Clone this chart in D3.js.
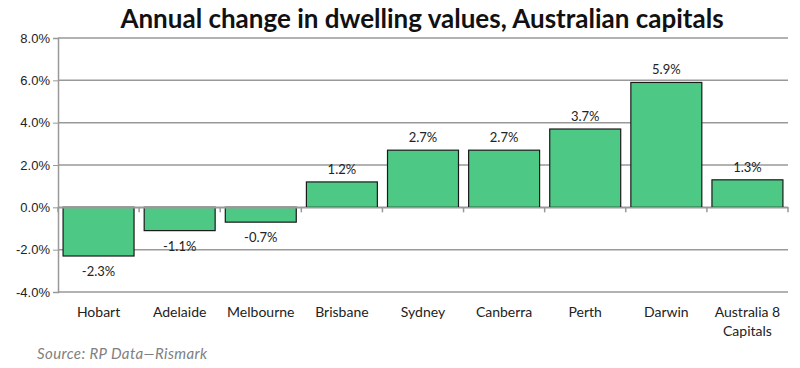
<!DOCTYPE html>
<html>
<head>
<meta charset="utf-8">
<script src="https://cdn.jsdelivr.net/npm/d3@7"></script>
<style>
  body { margin: 0; background: #fff; }
  svg { font-family: Lato, "Open Sans", sans-serif; }
</style>
</head>
<body>
<div id="chart"></div>
<script>
// data
var cities = ["Hobart", "Adelaide", "Melbourne", "Brisbane", "Sydney", "Canberra", "Perth", "Darwin", "Australia 8 Capitals"];
var change = [-2.3, -1.1, -0.7, 1.2, 2.7, 2.7, 3.7, 5.9, 1.3];
var yTicks = [-4, -2, 0, 2, 4, 6, 8];

var W = 800, H = 368;
var margin = {top: 38, right: 12, bottom: 76, left: 58},
    width = W - margin.left - margin.right,
    height = H - margin.top - margin.bottom;

// plain hyphen for negatives, like the original
var pct = function(d) { return d3.format(".1f")(d).replace("\u2212", "-") + "%"; };

var svg = d3.select("#chart").append("svg")
    .attr("width", W)
    .attr("height", H);

// title
svg.append("text")
    .attr("x", 422)
    .attr("y", 28)
    .attr("text-anchor", "middle")
    .style("font-size", "26px")
    .style("font-weight", "bold")
    .style("fill", "#111")
    .text("Annual change in dwelling values, Australian capitals");

var g = svg.append("g")
    .attr("transform", "translate(" + margin.left + "," + margin.top + ")");

var x = d3.scaleBand()
    .domain(cities)
    .range([0, width])
    .paddingInner(0.125)
    .paddingOuter(0.0625);

var y = d3.scaleLinear()
    .domain([-4, 8])
    .range([height, 0]);

// gridlines
g.selectAll(".grid")
    .data(yTicks)
    .enter().append("line")
    .attr("x1", 0)
    .attr("x2", width)
    .attr("y1", function(d) { return y(d); })
    .attr("y2", function(d) { return y(d); })
    .style("stroke", "#999")
    .style("stroke-width", 1.5);

// y axis
var yAxis = g.append("g")
    .call(d3.axisLeft(y).tickValues(yTicks).tickSize(5).tickFormat(pct));
yAxis.select(".domain").style("stroke", "#999").style("stroke-width", 1.5);
yAxis.selectAll(".tick line").style("stroke", "#999");
yAxis.selectAll(".tick text")
    .attr("x", -8)
    .style("font-size", "13px")
    .style("fill", "#222");

// bars
var data = cities.map(function(c, i) { return {city: c, v: change[i]}; });

g.selectAll(".bar")
    .data(data)
    .enter().append("rect")
    .attr("class", "bar")
    .attr("x", function(d) { return x(d.city); })
    .attr("width", x.bandwidth())
    .attr("y", function(d) { return y(Math.max(0, d.v)); })
    .attr("height", function(d) { return Math.abs(y(d.v) - y(0)); })
    .style("fill", "#4dc985")
    .style("stroke", "#1a1a1a")
    .style("stroke-width", 1.2);

// x axis along zero line
var xAxis = g.append("g")
    .attr("transform", "translate(0," + y(0) + ")")
    .call(d3.axisBottom(x).tickSize(0).tickFormat(""));
xAxis.select(".domain").style("stroke", "#999").style("stroke-width", 1.5);

// category tick marks at band edges
var step = x.step();
g.selectAll(".xtick")
    .data(d3.range(cities.length + 1))
    .enter().append("line")
    .attr("x1", function(i) { return x(cities[0]) - step * 0.0625 + i * step; })
    .attr("x2", function(i) { return x(cities[0]) - step * 0.0625 + i * step; })
    .attr("y1", y(0))
    .attr("y2", y(0) + 5)
    .style("stroke", "#999")
    .style("stroke-width", 1.5);

// category labels under the plot
var labels = g.selectAll(".cat")
    .data(cities)
    .enter().append("text")
    .attr("x", function(d) { return x(d) + x.bandwidth() / 2; })
    .attr("y", height + 25)
    .attr("text-anchor", "middle")
    .style("font-size", "14px")
    .style("fill", "#222");

labels.each(function(d) {
    var t = d3.select(this);
    var parts = d === "Australia 8 Capitals" ? ["Australia 8", "Capitals"] : [d];
    parts.forEach(function(p, i) {
        t.append("tspan")
            .attr("x", x(d) + x.bandwidth() / 2)
            .attr("dy", i === 0 ? 0 : 19)
            .text(p);
    });
});

// value labels
g.selectAll(".val")
    .data(data)
    .enter().append("text")
    .attr("x", function(d) { return x(d.city) + x.bandwidth() / 2; })
    .attr("y", function(d) { return d.v >= 0 ? y(d.v) - 8 : y(d.v) + 20; })
    .attr("text-anchor", "middle")
    .style("font-size", "13px")
    .style("fill", "#222")
    .text(function(d) { return pct(d.v); });

// source note
svg.append("text")
    .attr("x", 37)
    .attr("y", 359)
    .style("font-size", "15px")
    .style("font-style", "italic")
    .style("letter-spacing", "0.4px")
    .style("fill", "#808080")
    .text("Source: RP Data\u2014Rismark");
</script>
</body>
</html>
